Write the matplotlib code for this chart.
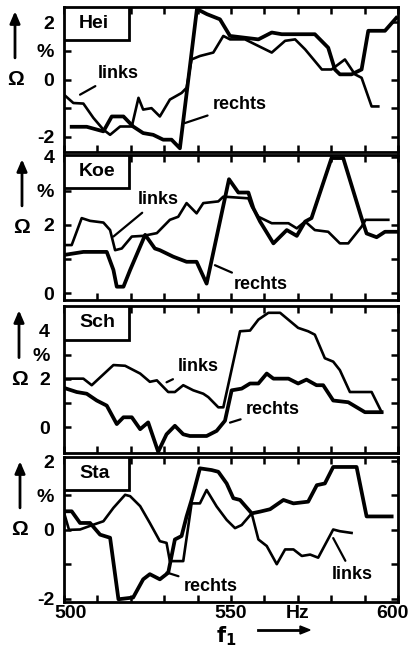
import matplotlib.pyplot as plt
from matplotlib.patches import Rectangle
from matplotlib.transforms import ScaledTranslation

plt.rcParams['font.family'] = ['Liberation Sans', 'DejaVu Sans']
plt.rcParams['font.weight'] = 'bold'

# --- Hei ---
hei_links_f = [500, 502.8, 505.8, 508.8, 511.8, 513.8, 516.8, 520.3, 522.3, 523.7, 526.2,
               528.7, 531.7, 535.2, 536.7, 538.2, 540.7, 544.7, 547.7, 549.7, 554.2, 558.2,
               562.2, 566.2, 569.2, 572.2, 577.2, 580.1, 584.1, 587.1, 589.1, 592.1, 594.1]
hei_links_v = [-0.53, -0.82, -0.84, -1.34, -1.75, -1.93, -1.64, -1.64, -0.64, -1.05, -1.0,
               -1.29, -0.7, -0.47, -0.29, 0.7, 0.82, 0.94, 1.52, 1.4, 1.4, 1.17,
               0.94, 1.35, 1.4, 1.05, 0.35, 0.35, 0.7, 0.18, 0.06, -0.94, -0.94]
hei_rechts_f = [502.3, 506.8, 511.8, 514.3, 517.8, 520.7, 523.7, 526.7, 529.7, 532.2, 534.7,
                539.8, 542.8, 546.7, 549.7, 558.2, 562.2, 565.2, 575.1, 579.1, 581.1, 582.6,
                586.1, 589.1, 591.1, 596.1, 599.5]
hei_rechts_v = [-1.65, -1.65, -1.81, -1.29, -1.29, -1.64, -1.87, -1.93, -2.1, -2.1, -2.4,
                2.46, 2.28, 2.1, 1.52, 1.4, 1.64, 1.58, 1.58, 1.11, 0.35, 0.18,
                0.18, 0.35, 1.7, 1.7, 2.15]

# --- Koe ---
koe_links_f = [500, 502.3, 505.3, 507.8, 511.8, 513.8, 515.3, 517.3, 520.3, 523.7, 527.8,
               531.7, 534.2, 536.7, 539.7, 541.7, 546.2, 547.7, 555.2, 556.2, 558.2, 562.2,
               567.2, 569.7, 572.2, 575.1, 579.1, 582.6, 585.1, 589.1, 590.3, 597.1]
koe_links_v = [1.41, 1.41, 2.2, 2.12, 2.07, 1.85, 1.26, 1.31, 1.66, 1.68, 1.76,
               2.15, 2.24, 2.64, 2.34, 2.64, 2.69, 2.83, 2.78, 2.54, 2.24, 2.05,
               2.05, 1.9, 2.1, 1.85, 1.8, 1.46, 1.46, 1.95, 2.15, 2.15]
koe_rechts_f = [500, 505.8, 512.8, 514.8, 515.8, 517.8, 519.8, 524.3, 527.2, 528.7, 532.7,
                536.7, 539.7, 542.7, 549.4, 552.2, 555.2, 556.7, 558.7, 562.7, 566.7, 569.7,
                572.2, 574.1, 580.1, 583.6, 589.1, 590.6, 593.6, 596.1, 600]
koe_rechts_v = [1.12, 1.21, 1.21, 0.68, 0.19, 0.19, 0.68, 1.71, 1.31, 1.26, 1.07,
                0.92, 0.92, 0.28, 3.34, 2.95, 2.95, 2.49, 2.1, 1.46, 1.85, 1.68,
                2.1, 2.2, 3.96, 3.96, 2.2, 1.75, 1.64, 1.8, 1.8]

# --- Sch ---
sch_links_f = [500, 505.8, 508.3, 514.8, 518.3, 522.8, 525.7, 527.8, 531.2, 533.2, 535.7,
               538.7, 541.7, 543.2, 546.2, 547.7, 552.7, 555.7, 558.2, 561.2, 564.7, 570.1,
               573.1, 575.1, 578.1, 580.6, 582.6, 585.6, 592.1, 595.1]
sch_links_v = [2.01, 2.01, 1.74, 2.57, 2.54, 2.22, 1.88, 1.94, 1.46, 1.46, 1.74,
               1.53, 1.39, 1.25, 0.83, 0.83, 3.96, 3.99, 4.44, 4.72, 4.72, 4.1,
               3.96, 3.82, 2.85, 2.71, 2.36, 1.46, 1.46, 0.63]
sch_rechts_f = [500, 503.8, 506.8, 509.8, 512.8, 515.8, 517.8, 520.3, 522.8, 525.2, 528.2,
                530.7, 533.2, 535.7, 537.7, 542.7, 545.7, 548.2, 550.2, 553.2, 555.7, 558.2,
                560.7, 562.7, 567.2, 570.1, 572.6, 575.6, 577.6, 580.6, 585.1, 590.1, 595.1]
sch_rechts_v = [1.63, 1.46, 1.39, 1.11, 0.9, 0.14, 0.42, 0.42, -0.07, 0.21, -1.0,
                -0.28, 0.07, -0.28, -0.35, -0.35, -0.14, 0.28, 1.53, 1.6, 1.81, 1.81,
                2.22, 2.01, 2.01, 1.81, 1.97, 1.74, 1.74, 1.11, 1.04, 0.63, 0.63]

# --- Sta ---
sta_links_f = [500, 501.5, 504.8, 508.8, 511.8, 514.8, 518.3, 519.8, 522.8, 525.7, 528.7,
               530.7, 531.7, 535.7, 538.2, 540.7, 542.7, 545.7, 548.7, 551.2, 553.2, 556.2,
               558.2, 560.7, 563.7, 566.2, 568.7, 571.2, 573.7, 576.1, 580.6, 582.6, 586.1]
sta_links_v = [0.5, 0.0, 0.01, 0.15, 0.25, 0.64, 1.02, 0.98, 0.69, 0.2, -0.33,
               -0.38, -0.91, -0.91, 0.77, 0.77, 1.16, 0.68, 0.29, 0.05, 0.14, 0.48,
               -0.28, -0.47, -1.0, -0.57, -0.57, -0.76, -0.72, -0.81, 0.01, -0.04, -0.09]
sta_rechts_f = [500, 502.3, 504.8, 507.8, 510.8, 513.8, 516.3, 520.7, 523.7, 525.7, 528.7,
                531.2, 533.2, 535.2, 536.7, 538.2, 540.7, 544.2, 546.2, 548.7, 550.7, 552.7,
                556.2, 558.7, 561.7, 565.7, 568.7, 573.1, 575.7, 578.1, 580.6, 587.6, 590.6, 598.1]
sta_rechts_v = [0.54, 0.54, 0.2, 0.2, -0.14, -0.23, -2.02, -1.97, -1.44, -1.29, -1.44,
                -1.25, -0.28, -0.18, 0.39, 0.87, 1.79, 1.74, 1.69, 1.35, 0.92, 0.87,
                0.48, 0.53, 0.6, 0.87, 0.77, 0.82, 1.3, 1.35, 1.83, 1.83, 0.39, 0.39]

names = ['Hei', 'Koe', 'Sch', 'Sta']
ylims = [(-2.53, 2.53), (-0.2, 4.05), (-1.05, 5.0), (-2.1, 2.12)]
yticks = [[-2, -1, 0, 1, 2], [0, 1, 2, 3, 4], [0, 1, 2, 3, 4], [-2, -1, 0, 1, 2]]
yticklabels = [['-2', '', '0', '%', '2'], ['0', '', '2', '%', '4'],
               ['0', '', '2', '%', '4'], ['-2', '', '0', '%', '2']]
xticks = list(range(500, 601, 10))
xticklabels = ['500', '', '', '', '', '550', '', 'Hz', '', '', '600']

links = [(hei_links_f, hei_links_v), (koe_links_f, koe_links_v),
         (sch_links_f, sch_links_v), (sta_links_f, sta_links_v)]
rechts = [(hei_rechts_f, hei_rechts_v), (koe_rechts_f, koe_rechts_v),
          (sch_rechts_f, sch_rechts_v), (sta_rechts_f, sta_rechts_v)]

# label placement: (point on curve, text position) in data coords
links_ann = [((504.8, -0.53), (510.0, 0.21)), ((514.8, 1.66), (522.0, 2.74)),
             ((530.7, 1.86), (534.2, 2.5)), ((580.6, -0.24), (580.3, -1.3))]
rechts_ann = [((536.2, -1.52), (544.6, -0.88)), ((545.2, 0.82), (550.7, 0.24)),
              ((549.7, 0.2), (554.5, 0.75)), ((530.7, -1.24), (535.9, -1.65))]

W, H = 409, 653
fig = plt.figure(figsize=(W / 100, H / 100), dpi=100)
tops = [7, 155, 306, 457]
bots = [152, 300, 453, 602]
arrow_x = [15, 22, 19, 20]
ypads = [7, 7, 10, 7]

for i in range(4):
    ax = fig.add_axes([64 / W, 1 - bots[i] / H, 334 / W, (bots[i] - tops[i]) / H])
    f, v = links[i]
    ax.plot(f, v, color='black', lw=1.9, solid_joinstyle='round')
    f, v = rechts[i]
    ax.plot(f, v, color='black', lw=2.7, solid_joinstyle='round')
    ax.set_xlim(500, 600)
    ax.set_ylim(*ylims[i])
    ax.set_xticks(xticks)
    ax.set_yticks(yticks[i])
    ax.set_yticklabels(yticklabels[i])
    ax.tick_params(direction='in', length=5, width=1.8, top=True, right=True,
                   labelsize=14, pad=ypads[i], axis='y')
    ax.tick_params(direction='in', length=5, width=1.8, top=True, right=True,
                   labelsize=14, pad=2, axis='x')
    if i < 3:
        ax.set_xticklabels([])
    else:
        ax.set_xticklabels(xticklabels)
        labs = ax.get_xticklabels()
        labs[0].set_transform(labs[0].get_transform() +
                              ScaledTranslation(7 / 100, 0, fig.dpi_scale_trans))
        labs[-1].set_transform(labs[-1].get_transform() +
                               ScaledTranslation(-6 / 100, 0, fig.dpi_scale_trans))
    for sp in ax.spines.values():
        sp.set_linewidth(2.0)

    # name box
    ax.add_patch(Rectangle((0, 0.77), 0.195, 0.23, transform=ax.transAxes,
                           facecolor='white', edgecolor='black', lw=2.0, zorder=4))
    ax.text(0.045, 0.885, names[i], transform=ax.transAxes, ha='left', va='center',
            fontsize=14, fontweight='bold', zorder=5)

    (pt, tx) = links_ann[i]
    ax.annotate('links', xy=pt, xytext=tx, ha='left', va='center', fontsize=13,
                fontweight='bold',
                arrowprops=dict(arrowstyle='-', lw=1.6, color='black', shrinkA=2, shrinkB=0))
    (pt, tx) = rechts_ann[i]
    ax.annotate('rechts', xy=pt, xytext=tx, ha='left', va='center', fontsize=13,
                fontweight='bold',
                arrowprops=dict(arrowstyle='-', lw=1.6, color='black', shrinkA=2, shrinkB=0))

    # y label: arrow and Omega
    axx = (arrow_x[i] - 64) / 334
    ax.annotate('', xy=(axx, 0.99), xytext=(axx, 0.63), xycoords='axes fraction',
                arrowprops=dict(arrowstyle='-|>,head_length=0.7,head_width=0.3',
                                lw=2.0, color='black'),
                annotation_clip=False)
    ax.text(axx, 0.5, 'Ω', transform=ax.transAxes, ha='center', va='center',
            fontsize=15, fontweight='bold')

# x label
fig.text(226 / W, 1 - 636 / H, r'$\mathbf{f_1}$', ha='center', va='center', fontsize=15)
fig.add_artist(plt.Line2D([258 / W, 300 / W], [1 - 630 / H, 1 - 630 / H],
                          color='black', lw=2.0))
fig.patches.append(plt.Polygon([[300 / W, 1 - 626 / H], [310 / W, 1 - 630 / H],
                                [300 / W, 1 - 634 / H]], closed=True, color='black',
                               transform=fig.transFigure, figure=fig))

fig.savefig('out.png', dpi=100)
